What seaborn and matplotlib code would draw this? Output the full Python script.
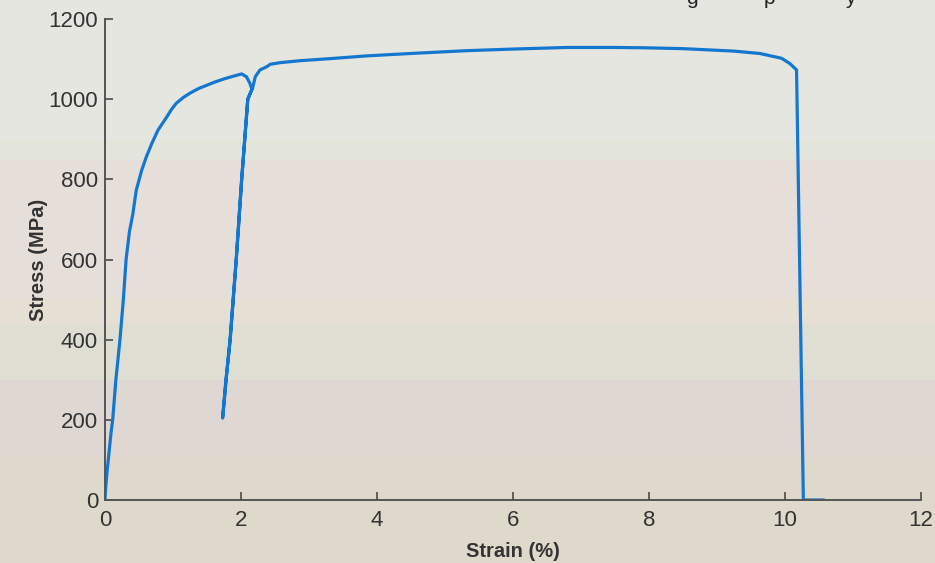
import matplotlib
matplotlib.use("Agg")
import matplotlib.pyplot as plt
from matplotlib.patches import Rectangle
import seaborn as sns
import pandas as pd

# ---- data ----
strain = [0.0, 0.01, 0.03, 0.06, 0.09, 0.113, 0.16, 0.22, 0.27, 0.31, 0.36,
          0.407, 0.46, 0.54, 0.61, 0.69, 0.78, 0.91, 0.98, 1.05, 1.15, 1.25,
          1.37, 1.50, 1.62, 1.74, 1.88,
          2.01, 2.08, 2.13, 2.16,
          2.10, 2.01, 1.97, 1.93, 1.84, 1.78, 1.73,
          1.78, 1.84, 1.93, 1.97, 2.01, 2.10, 2.17,
          2.21, 2.28, 2.38, 2.43, 2.57, 2.87, 3.3, 3.85, 4.5, 5.32, 6.0, 6.79,
          7.5, 8.0, 8.5, 8.75, 9.24, 9.63, 9.95, 10.07, 10.17,
          10.27, 10.4, 10.56]
stress = [0, 30, 70, 120, 170, 200, 300, 400, 500, 600, 670,
          711, 773, 823, 857, 890, 923, 956, 975, 990, 1004, 1015,
          1026, 1035, 1043, 1050, 1057,
          1063, 1056, 1040, 1025,
          1000, 800, 700, 600, 400, 300, 205,
          300, 400, 600, 700, 800, 1000, 1027,
          1056, 1073, 1081, 1087, 1091, 1096, 1101, 1108, 1114, 1121, 1125, 1129,
          1129, 1128, 1126, 1124, 1120, 1114, 1102, 1089, 1073,
          0, 0, 0]

xticks = [0, 2, 4, 6, 8, 10, 12]
yticks = [0, 200, 400, 600, 800, 1000, 1200]

df = pd.DataFrame({"strain": strain, "stress": stress})

W, H = 935, 563
fig = plt.figure(figsize=(W / 100, H / 100), dpi=100)
fig.patch.set_facecolor("#E6E6E0")

# background horizontal bands (pixel rows from top)
bands = [(0, 140, "#E6E6E0"), (140, 160, "#E4E5DA"), (160, 298, "#E6DED9"),
         (298, 325, "#E6E0D4"), (325, 380, "#DEDFD2"), (380, 457, "#DFD7D2"),
         (457, 563, "#DFD9CB")]
for top, bot, c in bands:
    fig.patches.append(Rectangle((0, 1 - bot / H), 1, (bot - top) / H,
                                 transform=fig.transFigure, color=c, zorder=-10,
                                 linewidth=0))

ax = fig.add_axes([105 / W, 1 - 500 / H, (921 - 105) / W, (500 - 19) / H])
ax.set_zorder(5)
ax.set_facecolor("none")

sns.lineplot(data=df, x="strain", y="stress", sort=False, estimator=None,
             color="#1477CF", linewidth=2.3, ax=ax)

ax.set_xlim(0, 12)
ax.set_ylim(0, 1200)
ax.set_xticks(xticks)
ax.set_yticks(yticks)
ax.set_xticklabels([str(v) for v in xticks])
ax.set_yticklabels([str(v) for v in yticks])

for s in ["top", "right"]:
    ax.spines[s].set_visible(False)
for s in ["left", "bottom"]:
    ax.spines[s].set_color("#555555")
    ax.spines[s].set_linewidth(1.4)

ax.tick_params(direction="in", length=6, width=1.3, color="#555555",
               labelsize=16, labelcolor="#333333")
ax.tick_params(axis="x", pad=7)
ax.tick_params(axis="y", pad=5)
for lab in ax.get_xticklabels() + ax.get_yticklabels():
    lab.set_fontfamily("Liberation Sans")

ax.set_xlabel("Strain (%)", fontsize=14.5, fontweight="bold", color="#333333",
              family="Liberation Sans", labelpad=8)
ax.set_ylabel("Stress (MPa)", fontsize=14.5, fontweight="bold", color="#333333",
              family="Liberation Sans", labelpad=0)

# cut-off caption fragments at the top edge
for xp, ch in [(686, "g"), (764, "p"), (845, "y")]:
    fig.text(xp / W, 1 - 4 / H, ch, fontsize=15, color="#222222",
             family="Liberation Sans", ha="left", va="baseline", zorder=6)

fig.savefig("out.png", dpi=100, facecolor=fig.get_facecolor())
